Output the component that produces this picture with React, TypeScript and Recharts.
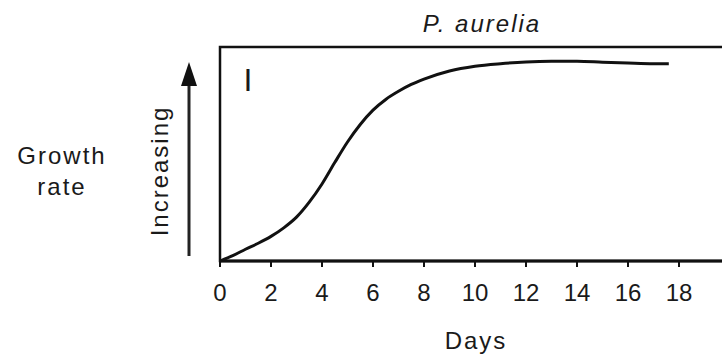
import { LineChart, Line, XAxis, YAxis, ReferenceArea } from "recharts";

// days and relative growth
const days = [0, 0.5, 1, 1.5, 2, 2.5, 3, 3.5, 4, 4.5, 5, 5.5, 6, 6.5, 7, 7.5, 8, 9, 10, 11, 12, 13, 14, 15, 16, 17, 17.6];
const growth = [0, 2.5, 5.5, 8.3, 11.5, 15.5, 20.5, 27.5, 36, 46, 55.6, 63.8, 70.5, 75.5, 79.3, 82.5, 85, 88.8, 91, 92.2, 93, 93.3, 93.3, 92.9, 92.5, 92.2, 92.2];
const dayTicks = [0, 2, 4, 6, 8, 10, 12, 14, 16, 18];

const title = "P. aurelia";
const xTitle = "Days";
const yTitle = ["Growth", "rate"];
const arrowText = "Increasing";
const panelMark = "I";

const data = days.map((d, i) => ({ day: d, growth: growth[i] }));

const font = '"Liberation Sans", Arial, sans-serif';
const textStyle = {
  position: "absolute" as const,
  fontFamily: font,
  fontSize: 24,
  lineHeight: "24px",
  letterSpacing: 2,
  color: "#1a1a1a",
  whiteSpace: "nowrap" as const,
};

export default function App() {
  return (
    <div
      style={{
        position: "absolute",
        left: 0,
        top: 0,
        width: 722,
        height: 361,
        overflow: "hidden",
        background: "#fff",
      }}
    >
      <LineChart
        width={760}
        height={361}
        data={data}
        margin={{ top: 47, right: 30, left: 220, bottom: 70 }}
      >
        <XAxis
          dataKey="day"
          type="number"
          domain={[0, 20]}
          ticks={dayTicks}
          height={30}
          tickSize={6}
          tickMargin={17}
          axisLine={{ stroke: "#111", strokeWidth: 3 }}
          tickLine={{ stroke: "#111", strokeWidth: 2 }}
          tick={{ fill: "#1a1a1a", fontSize: 24, fontFamily: font }}
          allowDataOverflow
        />
        <YAxis hide domain={[0, 100]} type="number" />
        <ReferenceArea
          x1={0}
          x2={20}
          y1={0}
          y2={100}
          fill="none"
          stroke="#111"
          strokeWidth={2.5}
          ifOverflow="visible"
        />
        <Line
          type="monotone"
          dataKey="growth"
          stroke="#111"
          strokeWidth={3}
          dot={false}
          isAnimationActive={false}
        />
      </LineChart>

      <div style={{ ...textStyle, left: 482, top: 12, transform: "translateX(-50%)", fontStyle: "italic" }}>
        {title}
      </div>
      <div style={{ ...textStyle, left: 476, top: 329, transform: "translateX(-50%)" }}>{xTitle}</div>
      <div
        style={{
          ...textStyle,
          left: 62,
          top: 140,
          lineHeight: "31px",
          textAlign: "center",
          transform: "translateX(-50%)",
        }}
      >
        {yTitle[0]}
        <br />
        {yTitle[1]}
      </div>
      <div
        style={{
          ...textStyle,
          left: 160,
          top: 171,
          transform: "translate(-50%, -50%) rotate(-90deg)",
        }}
      >
        {arrowText}
      </div>
      <div style={{ ...textStyle, left: 248, top: 64, fontSize: 32, lineHeight: "32px", transform: "translateX(-50%)", letterSpacing: 0 }}>
        {panelMark}
      </div>
      <svg width={722} height={361} style={{ position: "absolute", left: 0, top: 0, pointerEvents: "none" }}>
        <line x1={189} y1={256} x2={189} y2={80} stroke="#222" strokeWidth={3} />
        <polygon points="181,86 197,86 189,62" fill="#111" />
      </svg>
    </div>
  );
}
